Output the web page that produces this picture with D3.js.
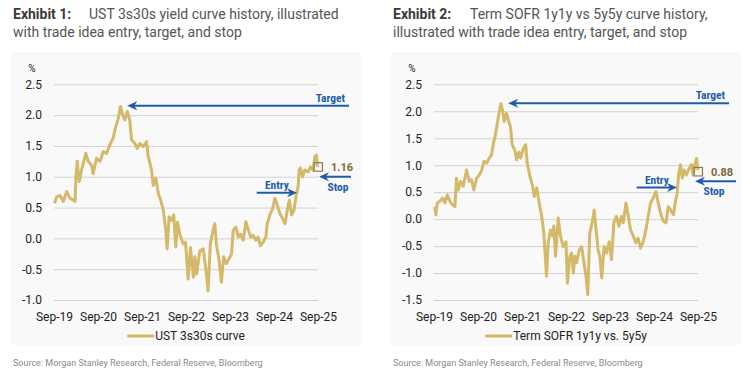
<!DOCTYPE html>
<html>
<head>
<meta charset="utf-8">
<script src="https://cdn.jsdelivr.net/npm/d3@7"></script>
<style>
body { margin: 0; background: #fff; }
svg text { font-family: Roboto, "Open Sans", sans-serif; }
</style>
</head>
<body>
<svg id="chart" width="754" height="373"></svg>
<script>
// UST 3s30s curve (%)
var ustDates = ["2019-09-06","2019-09-22","2019-10-20","2019-11-17","2019-12-15","2020-01-12","2020-02-09","2020-02-23",
  "2020-03-01","2020-03-12","2020-03-28","2020-04-17","2020-05-22","2020-06-11","2020-07-08","2020-07-22","2020-08-19",
  "2020-09-17","2020-10-14","2020-11-11","2020-12-08","2021-01-05","2021-01-19","2021-02-16","2021-03-06","2021-03-22",
  "2021-04-11","2021-05-01","2021-05-22","2021-06-06","2021-07-03","2021-07-22","2021-08-14","2021-09-11","2021-10-08",
  "2021-10-22","2021-11-19","2021-12-03","2021-12-25","2022-01-14","2022-02-03","2022-02-25","2022-03-17","2022-03-28",
  "2022-04-14","2022-05-03","2022-05-22","2022-06-08","2022-06-22","2022-07-11","2022-08-09","2022-08-28","2022-09-19",
  "2022-10-08","2022-11-01","2022-11-14","2022-11-28","2022-12-25","2023-01-22","2023-02-14","2023-03-03","2023-03-22",
  "2023-04-14","2023-04-28","2023-05-11","2023-06-03","2023-06-22","2023-07-11","2023-08-03","2023-09-01","2023-09-14",
  "2023-09-28","2023-10-20","2023-11-08","2023-11-28","2023-12-20","2024-01-11","2024-02-01","2024-02-20","2024-03-11",
  "2024-04-03","2024-04-22","2024-05-11","2024-06-03","2024-06-25","2024-07-06","2024-07-28","2024-08-20","2024-09-08",
  "2024-09-28","2024-10-20","2024-11-11","2024-12-01","2024-12-20","2025-01-06","2025-01-25","2025-02-14","2025-03-01",
  "2025-03-20","2025-03-28","2025-04-08","2025-04-25","2025-05-14","2025-06-11","2025-07-01","2025-07-22","2025-08-06",
  "2025-08-19","2025-08-28"];
var ustValues = [0.57,0.67,0.70,0.60,0.76,0.65,0.62,0.60,
  1.00,1.25,0.92,1.11,1.38,1.25,1.19,1.05,1.30,
  1.25,1.41,1.38,1.52,1.63,1.76,1.95,2.14,2.02,
  1.92,2.06,1.92,1.60,1.54,1.46,1.54,1.49,1.57,
  1.33,1.11,0.86,0.98,0.73,0.62,0.46,0.13,-0.17,
  0.35,0.29,0.38,-0.14,0.26,0.07,-0.09,-0.06,-0.66,
  -0.15,-0.63,-0.30,-0.58,-0.20,-0.17,-0.52,-0.85,-0.09,
  0.13,0.24,-0.09,-0.36,-0.71,-0.30,-0.41,-0.30,-0.25,
  0.13,0.18,0.02,0.07,-0.03,0.27,0.13,0.02,0.05,
  -0.03,0.02,-0.12,-0.06,0.02,0.24,0.38,0.48,0.65,
  0.54,0.40,0.32,0.24,0.46,0.62,0.38,0.46,0.67,
  0.84,1.11,1.14,1.00,1.11,1.08,1.16,1.11,1.33,
  1.35,1.16];

// Term SOFR 1y1y vs. 5y5y (%)
var sofrDates = ["2019-09-06","2019-09-17","2019-09-28","2019-10-20","2019-11-12","2019-12-01","2019-12-20","2020-01-12",
  "2020-02-03","2020-02-22","2020-03-06","2020-03-20","2020-04-09","2020-05-01","2020-05-28","2020-06-20","2020-07-09",
  "2020-07-28","2020-08-20","2020-09-12","2020-10-01","2020-10-20","2020-11-12","2020-12-03","2020-12-22","2021-01-06",
  "2021-01-20","2021-02-03","2021-02-21","2021-03-09","2021-03-23","2021-04-06","2021-04-25","2021-05-14","2021-05-28",
  "2021-06-11","2021-07-03","2021-07-17","2021-08-06","2021-08-20","2021-09-12","2021-10-01","2021-10-14","2021-11-06",
  "2021-11-28","2021-12-12","2022-01-01","2022-01-17","2022-02-11","2022-03-01","2022-03-23","2022-04-06","2022-04-25",
  "2022-05-12","2022-05-23","2022-06-06","2022-06-28","2022-07-17","2022-08-09","2022-09-01","2022-09-13","2022-10-03",
  "2022-10-17","2022-11-01","2022-11-14","2022-11-28","2022-12-20","2023-01-09","2023-01-28","2023-02-14","2023-03-01",
  "2023-03-17","2023-04-06","2023-04-23","2023-05-06","2023-05-25","2023-06-09","2023-06-25","2023-07-14","2023-08-03",
  "2023-08-26","2023-09-14","2023-10-03","2023-10-25","2023-11-14","2023-12-06","2023-12-20","2024-01-12","2024-02-01",
  "2024-02-19","2024-03-12","2024-04-03","2024-04-22","2024-05-12","2024-06-03","2024-06-25","2024-07-14","2024-08-03",
  "2024-08-25","2024-09-17","2024-10-06","2024-10-25","2024-11-17","2024-12-09","2024-12-28","2025-01-17","2025-02-09",
  "2025-02-26","2025-03-12","2025-03-25","2025-04-09","2025-04-23","2025-05-09","2025-05-28","2025-06-20","2025-07-09",
  "2025-07-23","2025-08-06","2025-08-20","2025-09-01"];
var sofrValues = [0.23,0.08,0.30,0.33,0.39,0.30,0.45,0.33,
  0.26,0.23,0.76,0.54,0.70,0.61,0.91,0.70,0.73,
  0.54,0.76,0.82,0.91,1.07,1.04,1.13,1.19,1.41,
  1.53,1.71,1.96,2.14,2.02,1.81,1.96,1.81,1.71,
  1.38,1.28,1.10,1.24,1.13,1.31,1.38,1.04,0.79,
  0.61,0.42,0.58,0.36,0.05,-0.26,-1.06,-0.44,-0.20,
  -0.31,-0.13,-0.69,0.02,-0.31,-0.51,-0.42,-1.19,-0.69,
  -0.63,-1.00,-0.69,-0.81,-0.57,-0.51,-0.81,-1.06,-1.40,
  -0.26,-0.07,0.17,-0.13,-0.57,-0.69,-1.09,-0.51,-0.63,
  -0.42,-0.75,-0.07,0.05,-0.13,0.05,-0.07,0.30,0.05,
  -0.20,-0.31,-0.44,-0.35,-0.54,-0.42,-0.20,0.05,0.30,
  0.39,0.51,0.30,0.11,-0.04,-0.07,0.23,0.17,0.08,
  0.33,0.48,0.85,1.01,0.76,0.91,0.82,0.94,1.01,
  0.82,1.01,1.13,0.91];

var xTickDates = ["2019-09-01","2020-09-01","2021-09-01","2022-09-01","2023-09-01","2024-09-01","2025-09-01"];
var ustTicks = [2.5, 2.0, 1.5, 1.0, 0.5, 0.0, -0.5, -1.0];
var sofrTicks = [2.5, 2.0, 1.5, 1.0, 0.5, 0.0, -0.5, -1.0, -1.5];

// trade idea levels: target, entry, stop, latest
var targetLevels = [2.15, 2.15];
var entryLevels = [0.74, 0.585];
var stopLevels = [1.0, 0.70];
var lastLevels = [1.16, 0.88];
var lastLabels = ["1.16", "0.88"];

var parse = d3.timeParse("%Y-%m-%d");
var svg = d3.select("#chart");
var gold = "#d4b96a", blue = "#1f5ca8";

function drawArrow(g, x1, x2, yy) {
  // head at x2
  var dir = x2 < x1 ? -1 : 1;
  g.append("line").attr("x1", x1).attr("x2", x2 - dir * 6).attr("y1", yy).attr("y2", yy)
    .attr("stroke", blue).attr("stroke-width", 2);
  g.append("path")
    .attr("d", "M" + x2 + "," + yy + "L" + (x2 - dir * 10) + "," + (yy - 4.5) + "L" + (x2 - dir * 7) + "," + yy +
      "L" + (x2 - dir * 10) + "," + (yy + 4.5) + "Z")
    .attr("fill", blue);
}

function drawExhibit(c, i) {
  var g = svg.append("g");
  var left = c.left, right = c.left + 264;

  g.append("rect").attr("x", left - 43).attr("y", 52).attr("width", 350).attr("height", 293).attr("fill", "#f9f9f9");

  var t1 = g.append("text").attr("x", left - 41).attr("y", 18.5).style("font-size", "14px");
  t1.append("tspan").attr("font-weight", "bold").attr("fill", "#3a3a3a").text(c.exhibit);
  t1.append("tspan").attr("x", c.titleX).attr("fill", "#555").text(c.title1);
  g.append("text").attr("x", left - 41).attr("y", 37).style("font-size", "14px").attr("fill", "#555").text(c.title2);

  var x = d3.scaleTime().domain([parse("2019-09-01"), parse("2025-09-01")]).range([left, right]);
  var y = d3.scaleLinear().domain(c.yDomain).range([300, 84.3]);

  var ya = g.append("g").attr("transform", "translate(" + left + ",0)")
    .call(d3.axisLeft(y).tickValues(c.ticks).tickSize(-264).tickPadding(12).tickFormat(function(d) { return d.toFixed(1); }));
  ya.select(".domain").remove();
  ya.selectAll("line").attr("stroke", "#d2d2d2");
  ya.selectAll("text").attr("fill", "#222").style("font-size", "12px");

  g.append("text").attr("x", left - 22).attr("y", 71.5).attr("text-anchor", "middle")
    .attr("fill", "#222").style("font-size", "10px").text("%");

  var xa = g.append("g").attr("transform", "translate(0,300)")
    .call(d3.axisBottom(x).tickValues(xTickDates.map(parse)).tickSize(0).tickPadding(12.5).tickFormat(d3.timeFormat("%b-%y")));
  xa.select(".domain").remove();
  xa.selectAll("text").attr("fill", "#222").style("font-size", "12px");

  var data = c.dates.map(function(d, k) { return { date: parse(d), value: c.values[k] }; });
  g.append("path").datum(data)
    .attr("fill", "none").attr("stroke", gold).attr("stroke-width", 3).attr("stroke-linejoin", "round")
    .attr("d", d3.line().x(function(d) { return x(d.date); }).y(function(d) { return y(d.value); }));

  // target
  var ty = y(targetLevels[i]);
  drawArrow(g, right + 31, x(parse(c.targetTip)), ty);
  g.append("text").attr("x", right + 27).attr("y", ty - 4).attr("text-anchor", "end")
    .attr("class", "ann").text("Target");

  // entry
  var ey = y(entryLevels[i]);
  var ex1 = x(parse("2024-04-10")), ex2 = x(parse("2025-03-11"));
  drawArrow(g, ex1, ex2, ey);
  g.append("text").attr("x", (ex1 + ex2) / 2).attr("y", ey - 3.5).attr("text-anchor", "middle")
    .attr("class", "ann").text("Entry");

  // stop
  var sy = y(stopLevels[i]);
  drawArrow(g, right + c.stopTail, right + c.stopTip, sy);
  g.append("text").attr("x", right + c.stopLabel).attr("y", sy + 14).attr("text-anchor", "middle")
    .attr("class", "ann").text("Stop");

  // latest level box
  var ly = y(lastLevels[i]);
  g.append("rect").attr("x", right - 4).attr("y", ly - 4.2).attr("width", 8.5).attr("height", 8.5)
    .attr("fill", "none").attr("stroke", "#8c7b50").attr("stroke-width", 1.2);
  g.append("text").attr("x", right + 13).attr("y", ly).attr("dy", "0.35em")
    .attr("fill", "#7a693a").attr("font-weight", "bold").style("font-size", "11px").text(lastLabels[i]);

  // legend
  var lg = g.append("g").attr("transform", "translate(0,336)");
  var lt = lg.append("text").attr("y", 0).attr("dy", "0.35em").attr("fill", "#222").style("font-size", "12px").text(c.legend);
  var w = lt.node().getComputedTextLength();
  var start = (left + right) / 2 - (28 + w) / 2;
  lg.append("line").attr("x1", start).attr("x2", start + 27).attr("stroke", gold).attr("stroke-width", 3);
  lt.attr("x", start + 28);

  g.append("text").attr("x", left - 41).attr("y", 366).attr("fill", "#8a8a8a").style("font-size", "9px")
    .text("Source: Morgan Stanley Research, Federal Reserve, Bloomberg");
}

svg.append("style").text(".ann { fill: " + blue + "; font-weight: bold; font-size: 11.5px; font-family: 'Liberation Sans Narrow', 'Roboto Condensed', Roboto, sans-serif; }");

drawExhibit({
  left: 54, exhibit: "Exhibit 1:", titleX: 89,
  title1: "UST 3s30s yield curve history, illustrated", title2: "with trade idea entry, target, and stop",
  yDomain: [-1.0, 2.5], ticks: ustTicks, dates: ustDates, values: ustValues,
  targetTip: "2021-05-01", stopTail: 33, stopTip: 1, stopLabel: 20, legend: "UST 3s30s curve"
}, 0);

drawExhibit({
  left: 434, exhibit: "Exhibit 2:", titleX: 470,
  title1: "Term SOFR 1y1y vs 5y5y curve history,", title2: "illustrated with trade idea entry, target, and stop",
  yDomain: [-1.5, 2.5], ticks: sofrTicks, dates: sofrDates, values: sofrValues,
  targetTip: "2021-05-09", stopTail: 38, stopTip: -3, stopLabel: 16, legend: "Term SOFR 1y1y vs. 5y5y"
}, 1);
</script>
</body>
</html>
